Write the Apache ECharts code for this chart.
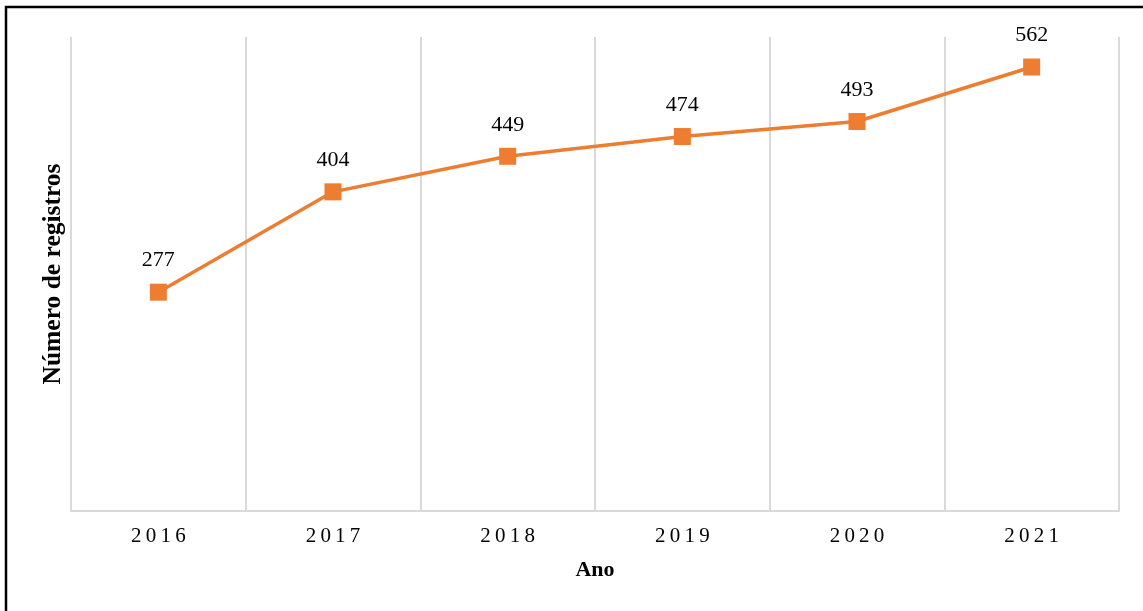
<!DOCTYPE html>
<html>
<head>
<meta charset="utf-8">
<title>Número de registros por ano</title>
<script src="https://cdn.jsdelivr.net/npm/echarts@6/dist/echarts.min.js"></script>
<style>
  html, body { margin: 0; padding: 0; background: #ffffff; }
  #chart { width: 1143px; height: 611px; }
</style>
</head>
<body>
<div id="chart"></div>
<script>
// Registros por ano
const years = ['2016', '2017', '2018', '2019', '2020', '2021'];
const registros = [277, 404, 449, 474, 493, 562];

const serif = "'Liberation Serif', 'Times New Roman', serif";
const gridColor = '#d9d9d9';
const lineColor = '#ED7D31';

const chart = echarts.init(document.getElementById('chart'), null, { renderer: 'canvas' });

chart.setOption({
  backgroundColor: '#ffffff',
  animation: false,
  grid: { left: 71, right: 24, top: 37, bottom: 100, containLabel: false },
  graphic: [
    {
      // frame around the figure
      type: 'rect',
      silent: true,
      shape: { x: 6, y: 7, width: 1300, height: 800 },
      style: { fill: 'none', stroke: '#000000', lineWidth: 2.5 }
    }
  ],
  xAxis: {
    type: 'category',
    data: years,
    boundaryGap: true,
    name: 'Ano',
    nameLocation: 'middle',
    nameGap: 48,
    nameTextStyle: { fontFamily: serif, fontWeight: 'bold', fontSize: 22, color: '#000000' },
    axisLine: { show: true, lineStyle: { color: gridColor, width: 2 } },
    axisTick: { show: false },
    axisLabel: {
      margin: 15,
      fontFamily: serif,
      fontSize: 21,
      color: '#000000',
      // spaced digits
      formatter: function (v) { return v.split('').join('\u2009'); }
    },
    splitLine: { show: true, lineStyle: { color: gridColor, width: 2 } }
  },
  yAxis: {
    type: 'value',
    min: 0,
    max: 600,
    interval: 100,
    name: 'Número de registros',
    nameLocation: 'middle',
    nameRotate: 90,
    nameGap: 5,
    nameTextStyle: { fontFamily: serif, fontWeight: 'bold', fontSize: 25.5, color: '#000000' },
    axisLine: { show: false },
    axisTick: { show: false },
    axisLabel: { show: false },
    splitLine: { show: false }
  },
  series: [
    {
      type: 'line',
      data: registros,
      symbol: 'rect',
      symbolSize: 17,
      lineStyle: { color: lineColor, width: 3.5 },
      itemStyle: { color: lineColor },
      label: {
        show: true,
        position: 'top',
        distance: 12,
        fontFamily: serif,
        fontSize: 22,
        color: '#000000'
      }
    }
  ]
});
</script>
</body>
</html>
